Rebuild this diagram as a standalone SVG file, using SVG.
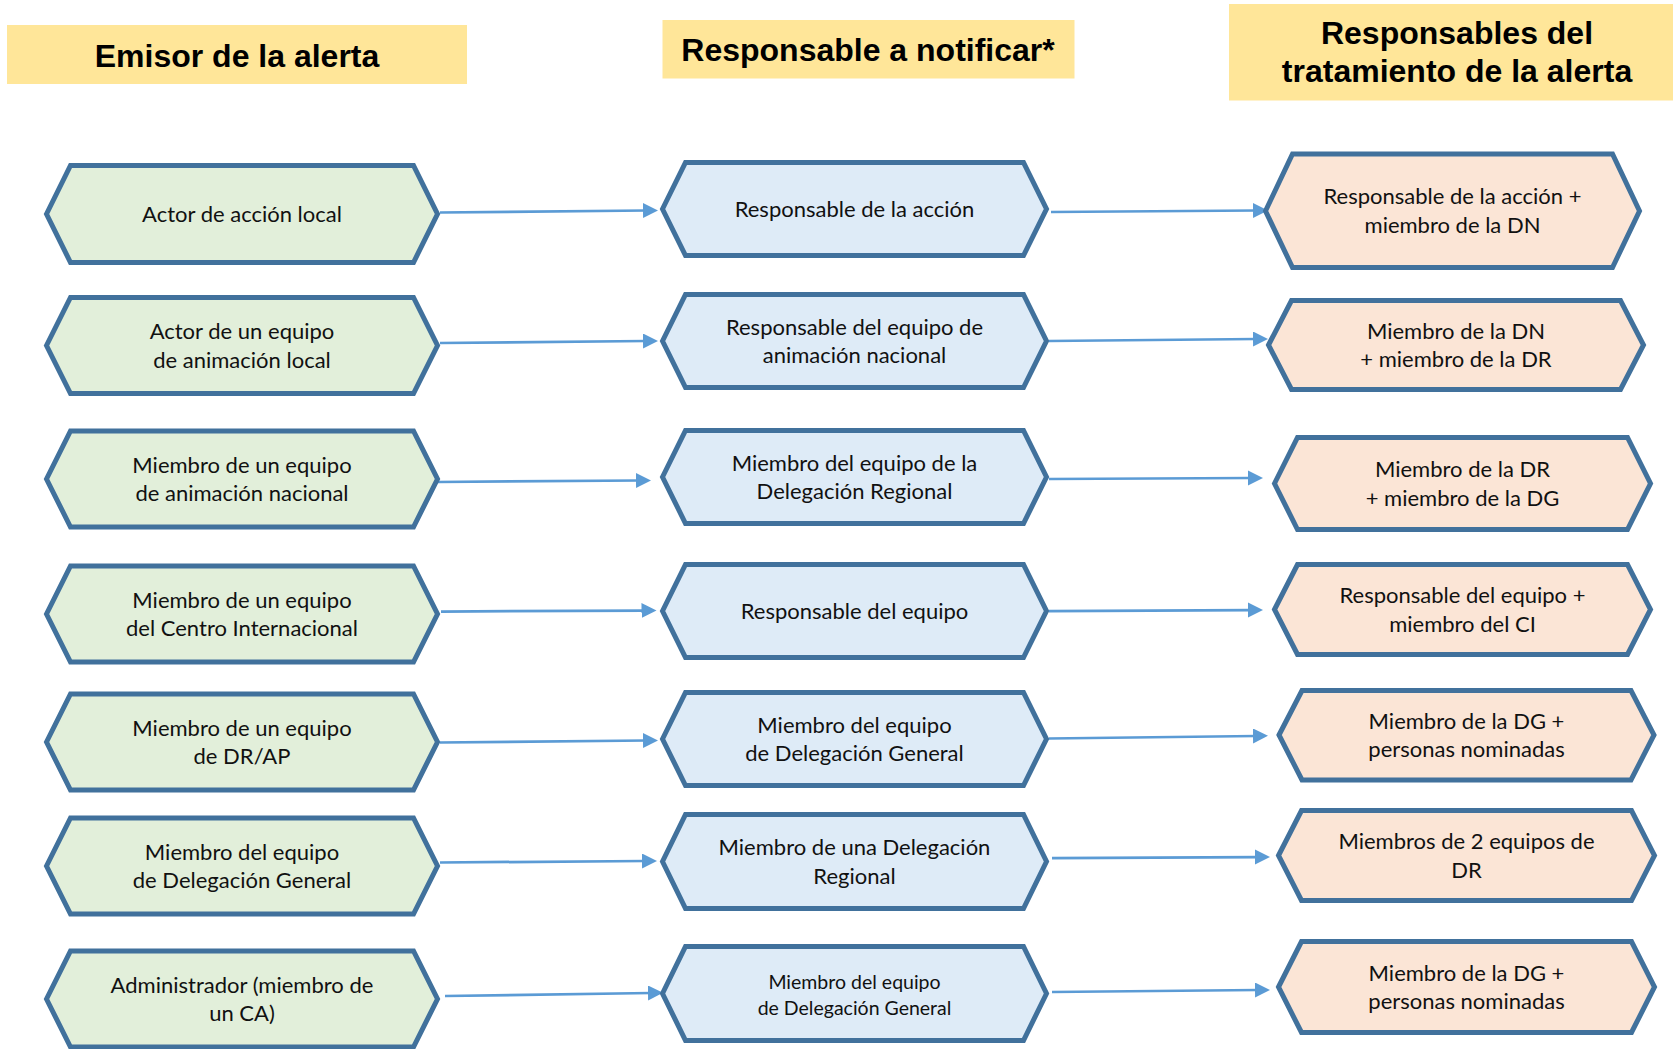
<svg xmlns="http://www.w3.org/2000/svg" width="1673" height="1049" viewBox="0 0 1673 1049">
<style>
.hdr{fill:#FFE699}
.ht{font-family:"Liberation Sans",Arial,sans-serif;font-weight:bold;font-size:32px;fill:#000;text-anchor:middle}
.hex{stroke:#41719C;stroke-width:5;stroke-linejoin:miter}
.g{fill:#E2EFDA}
.b{fill:#DEEBF7}
.p{fill:#FBE5D6}
.t{font-family:Lato,"Liberation Sans",sans-serif;font-size:22px;fill:#111;text-anchor:middle}
.ts{font-size:19.5px}
.c{stroke:#5B9BD5;stroke-width:2.75;fill:none;marker-end:url(#ah)}
</style>
<defs>
<marker id="ah" markerUnits="userSpaceOnUse" markerWidth="16" markerHeight="16" refX="3" refY="7.5" orient="auto">
<path d="M0,0 L15,7.5 L0,15 z" fill="#5B9BD5"/>
</marker>
</defs>
<rect width="1673" height="1049" fill="#fff"/>

<g id="header-emisor"><rect class="hdr" x="7" y="25" width="460" height="59"/><text class="ht" x="237" y="67">Emisor de la alerta</text></g>
<g id="header-notificar"><rect class="hdr" x="662.5" y="20" width="412" height="58.5"/><text class="ht" x="868" y="61">Responsable a notificar*</text></g>
<g id="header-tratamiento"><rect class="hdr" x="1229" y="4" width="444" height="96.5"/><text class="ht" x="1457" y="44">Responsables del</text><text class="ht" x="1457" y="81.5">tratamiento de la alerta</text></g>

<g id="connectors">
<path class="c" d="M440,212.5 L646,210.5"/>
<path class="c" d="M1051,212 L1256,210.5"/>
<path class="c" d="M440,343 L646,341"/>
<path class="c" d="M1049,341 L1256,339"/>
<path class="c" d="M437,482 L639,480.5"/>
<path class="c" d="M1049,479 L1251,478"/>
<path class="c" d="M441,611.5 L644.5,610.5"/>
<path class="c" d="M1049,611 L1251,610"/>
<path class="c" d="M440,742.5 L646,740.5"/>
<path class="c" d="M1049,738.5 L1256,736"/>
<path class="c" d="M440,862.5 L645,861"/>
<path class="c" d="M1052,858 L1258,857"/>
<path class="c" d="M445,996 L651,993"/>
<path class="c" d="M1052,992 L1258,990"/>
</g>

<g id="g1"><polygon class="hex g" points="46.5,214 70.5,165.5 413.5,165.5 437.5,214 413.5,262.5 70.5,262.5"/><text class="t" x="242" y="222">Actor de acción local</text></g>
<g id="g2"><polygon class="hex g" points="46.5,345.5 70.5,297.5 413.5,297.5 437.5,345.5 413.5,393.5 70.5,393.5"/><text class="t" x="242" y="339">Actor de un equipo</text><text class="t" x="242" y="367.5">de animación local</text></g>
<g id="g3"><polygon class="hex g" points="46.5,479 70.5,431 413.5,431 437.5,479 413.5,527 70.5,527"/><text class="t" x="242" y="472.5">Miembro de un equipo</text><text class="t" x="242" y="501">de animación nacional</text></g>
<g id="g4"><polygon class="hex g" points="46.5,614 70.5,566 413.5,566 437.5,614 413.5,662 70.5,662"/><text class="t" x="242" y="607.5">Miembro de un equipo</text><text class="t" x="242" y="636">del Centro Internacional</text></g>
<g id="g5"><polygon class="hex g" points="46.5,742 70.5,694 413.5,694 437.5,742 413.5,790 70.5,790"/><text class="t" x="242" y="735.5">Miembro de un equipo</text><text class="t" x="242" y="764">de DR/AP</text></g>
<g id="g6"><polygon class="hex g" points="46.5,866 70.5,818 413.5,818 437.5,866 413.5,914 70.5,914"/><text class="t" x="242" y="859.5">Miembro del equipo</text><text class="t" x="242" y="888">de Delegación General</text></g>
<g id="g7"><polygon class="hex g" points="46.5,999 70.5,951 413.5,951 437.5,999 413.5,1047 70.5,1047"/><text class="t" x="242" y="992.5">Administrador (miembro de</text><text class="t" x="242" y="1021">un CA)</text></g>

<g id="b1"><polygon class="hex b" points="662.5,209 685.5,162.5 1023.5,162.5 1046.5,209 1023.5,255.5 685.5,255.5"/><text class="t" x="854.5" y="217">Responsable de la acción</text></g>
<g id="b2"><polygon class="hex b" points="662.5,341 685.5,294.5 1023.5,294.5 1046.5,341 1023.5,387.5 685.5,387.5"/><text class="t" x="854.5" y="334.5">Responsable del equipo de</text><text class="t" x="854.5" y="363">animación nacional</text></g>
<g id="b3"><polygon class="hex b" points="662.5,477 685.5,430.5 1023.5,430.5 1046.5,477 1023.5,523.5 685.5,523.5"/><text class="t" x="854.5" y="470.5">Miembro del equipo de la</text><text class="t" x="854.5" y="499">Delegación Regional</text></g>
<g id="b4"><polygon class="hex b" points="662.5,611 685.5,564.5 1023.5,564.5 1046.5,611 1023.5,657.5 685.5,657.5"/><text class="t" x="854.5" y="619">Responsable del equipo</text></g>
<g id="b5"><polygon class="hex b" points="662.5,739 685.5,692.5 1023.5,692.5 1046.5,739 1023.5,785.5 685.5,785.5"/><text class="t" x="854.5" y="732.5">Miembro del equipo</text><text class="t" x="854.5" y="761">de Delegación General</text></g>
<g id="b6"><polygon class="hex b" points="662.5,861.5 685.5,814.5 1023.5,814.5 1046.5,861.5 1023.5,908.5 685.5,908.5"/><text class="t" x="854.5" y="855">Miembro de una Delegación</text><text class="t" x="854.5" y="883.5">Regional</text></g>
<g id="b7"><polygon class="hex b" points="662.5,993.5 685.5,946.5 1023.5,946.5 1046.5,993.5 1023.5,1040.5 685.5,1040.5"/><text class="t ts" x="854.5" y="989">Miembro del equipo</text><text class="t ts" x="854.5" y="1015">de Delegación General</text></g>

<g id="p1"><polygon class="hex p" points="1265.5,211 1292.5,154 1612.5,154 1639.5,211 1612.5,267.5 1292.5,267.5"/><text class="t" x="1452.5" y="204">Responsable de la acción +</text><text class="t" x="1452.5" y="232.5">miembro de la DN</text></g>
<g id="p2"><polygon class="hex p" points="1268.5,345 1291.5,300.5 1620.5,300.5 1643.5,345 1620.5,389.5 1291.5,389.5"/><text class="t" x="1456" y="338.5">Miembro de la DN</text><text class="t" x="1456" y="367">+ miembro de la DR</text></g>
<g id="p3"><polygon class="hex p" points="1274.5,483.5 1297.5,437.5 1627.5,437.5 1650.5,483.5 1627.5,529.5 1297.5,529.5"/><text class="t" x="1462.5" y="477">Miembro de la DR</text><text class="t" x="1462.5" y="505.5">+ miembro de la DG</text></g>
<g id="p4"><polygon class="hex p" points="1274.5,609.5 1297.5,564.5 1627.5,564.5 1650.5,609.5 1627.5,654.5 1297.5,654.5"/><text class="t" x="1462.5" y="603">Responsable del equipo +</text><text class="t" x="1462.5" y="631.5">miembro del CI</text></g>
<g id="p5"><polygon class="hex p" points="1279,735 1302,690.5 1631,690.5 1654,735 1631,780 1302,780"/><text class="t" x="1466.5" y="728.5">Miembro de la DG +</text><text class="t" x="1466.5" y="757">personas nominadas</text></g>
<g id="p6"><polygon class="hex p" points="1278.5,855.5 1301.5,810.5 1631.5,810.5 1654.5,855.5 1631.5,900.5 1301.5,900.5"/><text class="t" x="1466.5" y="849">Miembros de 2 equipos de</text><text class="t" x="1466.5" y="877.5">DR</text></g>
<g id="p7"><polygon class="hex p" points="1278.5,987 1301.5,941.5 1631.5,941.5 1654.5,987 1631.5,1032.5 1301.5,1032.5"/><text class="t" x="1466.5" y="980.5">Miembro de la DG +</text><text class="t" x="1466.5" y="1009">personas nominadas</text></g>
</svg>
